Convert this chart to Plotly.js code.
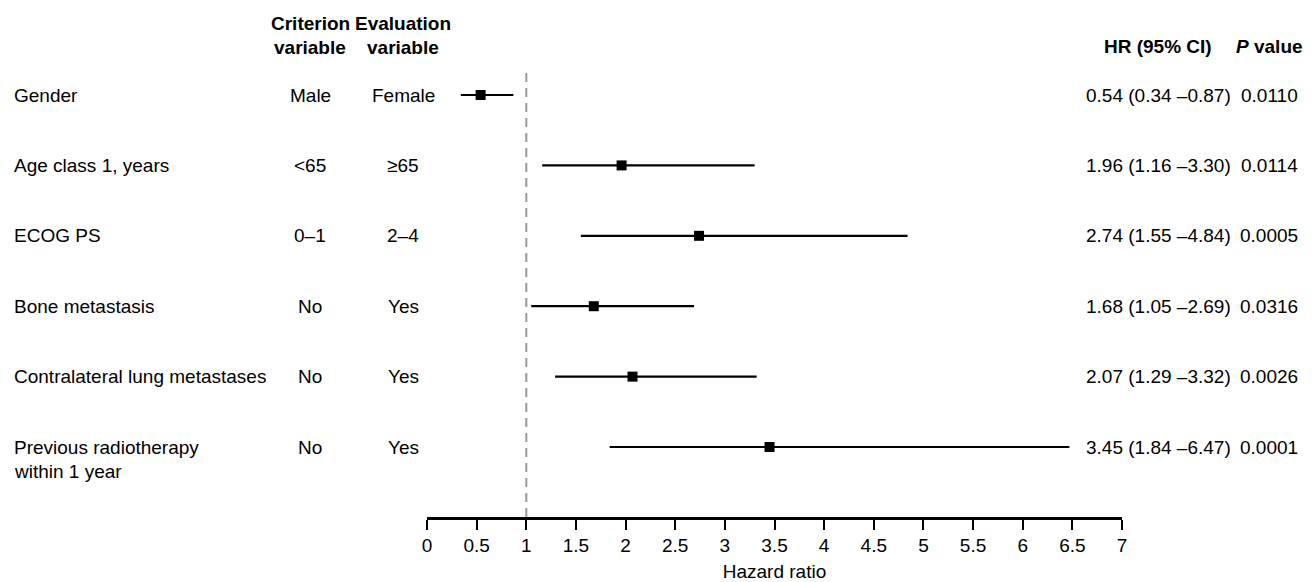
<!DOCTYPE html>
<html>
<head>
<meta charset="utf-8">
<script src="https://cdn.plot.ly/plotly-3.0.1.min.js"></script>
<style>html,body{margin:0;padding:0;background:#fff;}#chart{width:1313px;height:582px;}</style>
</head>
<body>
<div id="chart"></div>
<script>
// Data
const variables = ["Gender", "Age class 1, years", "ECOG PS", "Bone metastasis", "Contralateral lung metastases", "Previous radiotherapy<br>within 1 year"];
const criterion = ["Male", "<65", "0–1", "No", "No", "No"];
const evaluation = ["Female", "≥65", "2–4", "Yes", "Yes", "Yes"];
const hr = [0.54, 1.96, 2.74, 1.68, 2.07, 3.45];
const ciLow = [0.34, 1.16, 1.55, 1.05, 1.29, 1.84];
const ciHigh = [0.87, 3.30, 4.84, 2.69, 3.32, 6.47];
const pValues = ["0.0110", "0.0114", "0.0005", "0.0316", "0.0026", "0.0001"];
const xTicks = [0, 0.5, 1, 1.5, 2, 2.5, 3, 3.5, 4, 4.5, 5, 5.5, 6, 6.5, 7];

const FONT = '"Liberation Sans", Arial, Helvetica, sans-serif';
const FS = 19;
const rows = variables.map((_, i) => i);

// layout geometry
const W = 1313, H = 582, ML = 427, MR = 191, MT = 72, MB = 65;
const PW = W - ML - MR, PH = H - MT - MB;
const px = p => (p - ML) / PW;          // pixel x -> paper x
const py = p => (H - MB - p) / PH;      // pixel y -> paper y

const colLabel = px(12), colCrit = px(310), colEval = px(403), colHR = px(1158), colP = px(1269);

const fmt = v => v.toFixed(2);
const annotations = [];
const base = () => ({xref: 'paper', yref: 'y', showarrow: false, font: {family: FONT, size: FS, color: '#000'}});

variables.forEach((lab, i) => {
  const lines = lab.split('<br>');
  lines.forEach((ln, k) => {
    annotations.push(Object.assign(base(), {x: colLabel, y: i, text: ln, xanchor: 'left', yanchor: 'middle', yshift: -24 * k}));
  });
  annotations.push(Object.assign(base(), {x: colCrit, y: i, text: criterion[i].replace('<', '&lt;'), xanchor: 'center', yanchor: 'middle'}));
  annotations.push(Object.assign(base(), {x: colEval, y: i, text: evaluation[i], xanchor: 'center', yanchor: 'middle'}));
  annotations.push(Object.assign(base(), {x: colHR, y: i, text: fmt(hr[i]) + ' (' + fmt(ciLow[i]) + ' –' + fmt(ciHigh[i]) + ')', xanchor: 'center', yanchor: 'middle'}));
  annotations.push(Object.assign(base(), {x: colP, y: i, text: pValues[i], xanchor: 'center', yanchor: 'middle'}));
});

// headers
const hdr = (x, y, t) => Object.assign(base(), {yref: 'paper', x: x, y: y, text: '<b>' + t + '</b>', xanchor: 'center', yanchor: 'middle'});
annotations.push(hdr(colCrit, py(23), 'Criterion'));
annotations.push(hdr(colCrit, py(47), 'variable'));
annotations.push(hdr(colEval, py(23), 'Evaluation'));
annotations.push(hdr(colEval, py(47), 'variable'));
annotations.push(hdr(colHR, py(46), 'HR (95% CI)'));
annotations.push(hdr(colP, py(46), '<i>P</i> value'));

const trace = {
  type: 'scatter',
  mode: 'markers',
  x: hr,
  y: rows,
  marker: {symbol: 'square', size: 10, color: '#000'},
  error_x: {
    type: 'data',
    symmetric: false,
    array: hr.map((v, i) => ciHigh[i] - v),
    arrayminus: hr.map((v, i) => v - ciLow[i]),
    width: 0,
    thickness: 2.2,
    color: '#000'
  },
  cliponaxis: false,
  hoverinfo: 'x+y'
};

const layout = {
  width: W,
  height: H,
  margin: {l: ML, r: MR, t: MT, b: MB},
  paper_bgcolor: '#fff',
  plot_bgcolor: '#fff',
  showlegend: false,
  font: {family: FONT, size: FS, color: '#000'},
  xaxis: {
    range: [0, 7],
    tickvals: xTicks,
    ticktext: xTicks.map(String),
    showgrid: false,
    zeroline: false,
    showline: true,
    linecolor: '#000',
    linewidth: 2.5,
    ticks: 'outside',
    ticklen: 10,
    tickwidth: 2,
    tickcolor: '#000',
    tickfont: {family: FONT, size: FS, color: '#000'},
    title: {text: 'Hazard ratio', font: {family: FONT, size: FS, color: '#000'}, standoff: 10},
    fixedrange: true
  },
  yaxis: {
    range: [5.994, -0.327],
    showgrid: false,
    zeroline: false,
    showline: false,
    showticklabels: false,
    ticks: '',
    fixedrange: true
  },
  shapes: [{
    type: 'line', xref: 'x', yref: 'paper', x0: 1, x1: 1, y0: 0, y1: 1,
    line: {color: '#999', width: 2, dash: '9px,6px'}, layer: 'below'
  }],
  annotations: annotations
};

Plotly.newPlot('chart', [trace], layout, {displayModeBar: false, staticPlot: true});
</script>
</body>
</html>
